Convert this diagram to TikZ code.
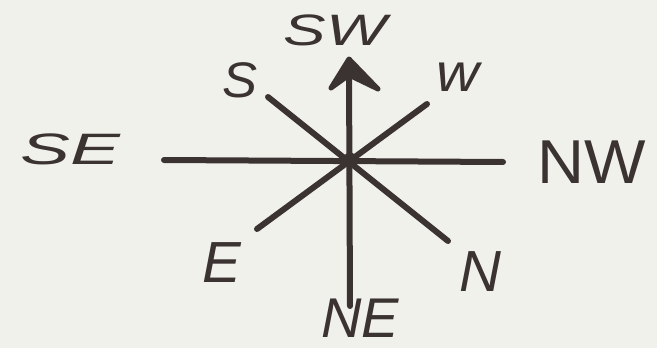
\documentclass[tikz,border=0pt]{standalone}
\usepackage{fontspec}
\setmainfont{Liberation Sans}
\usetikzlibrary{arrows.meta}
\definecolor{ink}{HTML}{3B3232}
\definecolor{paper}{HTML}{F1F1EB}
\newcommand{\wide}[2]{\scalebox{#1}[1]{#2}}
\begin{document}
\begin{tikzpicture}[x=1pt,y=-1pt,
  ray/.style={draw=ink,line width=6pt,line cap=round},
  lbl/.style={text=ink,font=\itshape\fontsize{44}{44}\selectfont,inner sep=0pt}]
\fill[paper] (0,0) rectangle (657,348);
\useasboundingbox (0,0) rectangle (657,348);
% end points
\coordinate (c) at (350,159);
\coordinate (top) at (349,66);
\coordinate (bot) at (350,306);
\coordinate (left) at (164,160);
\coordinate (right) at (503,162);
\coordinate (ul) at (268,97);
\coordinate (lr) at (448,241);
\coordinate (ur) at (427,104);
\coordinate (ll) at (257,229);
\coordinate (tip) at (349,59);
\coordinate (wl) at (331,88);
\coordinate (wr) at (378,89);
% rays
\draw[ray] (left) -- (right);
\draw[ray] (ul) -- (lr);
\draw[ray] (ur) -- (ll);
\draw[ray] (bot) -- (top);
\filldraw[ink,line width=5pt,line join=round] (tip) -- (wr) -- (349,75) -- (wl) -- cycle;
\fill[ink] (c) circle (6.5pt);
% labels
\node[lbl] (sw) at (335,30) {\wide{1.45}{SW}};
\node[lbl,font=\itshape\fontsize{50}{50}\selectfont] (s) at (240,80) {\wide{1.05}{S}};
\node[lbl,font=\itshape\fontsize{54}{54}\selectfont] (w) at (458,77) {\wide{1.1}{w}};
\node[lbl] (se) at (70,149) {\wide{1.7}{SE}};
\node[lbl,font=\fontsize{62}{62}\selectfont] (nw) at (592,162) {\wide{1.05}{NW}};
\node[lbl,font=\itshape\fontsize{58}{58}\selectfont] (e) at (222,263) {E};
\node[lbl,font=\itshape\fontsize{58}{58}\selectfont] (n) at (480,272) {N};
\node[lbl,font=\itshape\fontsize{56}{56}\selectfont] (ne) at (360,318) {NE};
\end{tikzpicture}
\end{document}
